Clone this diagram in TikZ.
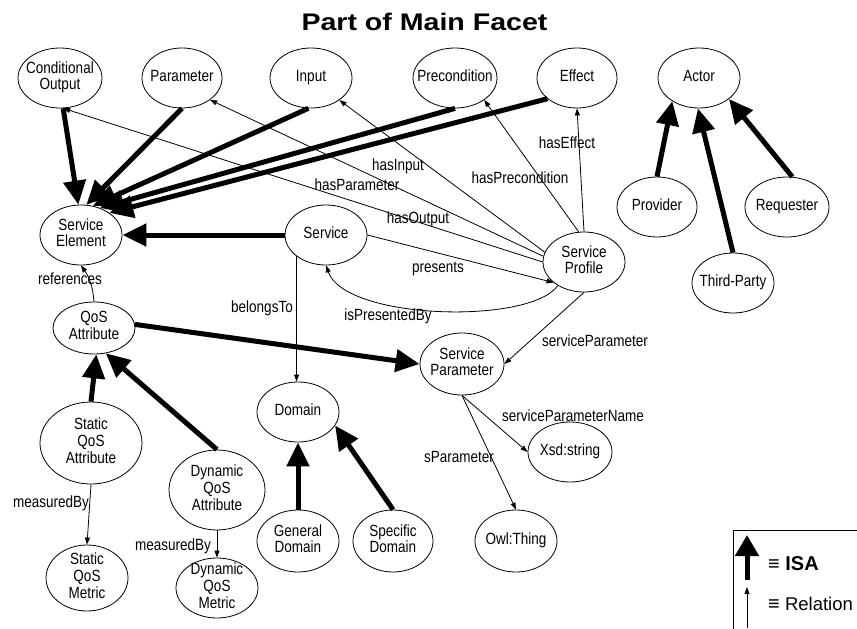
\documentclass[tikz,border=0pt]{standalone}
\usepackage{fontspec}
\setmainfont{Liberation Sans}
\usepackage{graphicx}
\usetikzlibrary{arrows.meta,shapes.geometric,calc}

% text of concepts and relation names: slightly tall sans
\newcommand{\ntext}[1]{\scalebox{1}[1.2]{\begin{tabular}{@{}c@{}}#1\end{tabular}}}
\newcommand{\tallword}[1]{\scalebox{1}[1.2]{#1}}
% concept ellipse with fixed size and centred text
\newcommand{\conceptnode}[5]{%
  \node[concept, minimum width=#3, minimum height=#4,
        label={[txt]center:{\ntext{#5}}}] (#1) at #2 {};}

\begin{document}
\begin{tikzpicture}[x=1pt,y=-1pt,
  concept/.style={draw, ellipse, line width=0.8pt, inner sep=0pt},
  txt/.style={inner sep=0pt, font=\fontsize{13.5}{13.8}\selectfont},
  elbl/.style={inner sep=0pt, anchor=base, font=\fontsize{13.5}{13.8}\selectfont},
  isa/.style={line width=5pt, -{Triangle[length=24pt,width=22pt]}},
  rel/.style={line width=0.8pt, -{Triangle[length=7pt,width=5pt]}}
]
\useasboundingbox (0,0) rectangle (857,629);
\fill[white] (0,0) rectangle (857,629);

% title
\node[inner sep=0pt, anchor=base, font=\fontsize{24}{24}\selectfont\bfseries]
  (title) at (424.5,30) {\scalebox{1.19}[1]{Part of Main Facet}};

% concepts
\conceptnode{co}{(60,78)}{84pt}{60pt}{Conditional\\Output}
\conceptnode{param}{(182,78)}{80pt}{60pt}{Parameter}
\conceptnode{input}{(311,78)}{82pt}{60pt}{Input}
\conceptnode{precond}{(455,78)}{84pt}{60pt}{Precondition}
\conceptnode{effect}{(577,78)}{80pt}{60pt}{Effect}
\conceptnode{actor}{(699,78)}{82pt}{60pt}{Actor}
\conceptnode{provider}{(657,207)}{80pt}{60pt}{Provider}
\conceptnode{requester}{(787,207)}{84pt}{60pt}{Requester}
\conceptnode{third}{(733,283)}{82pt}{60pt}{Third-Party}
\conceptnode{se}{(81,235)}{82pt}{60pt}{Service\\Element}
\conceptnode{service}{(326,235)}{82pt}{60pt}{Service}
\conceptnode{sprof}{(584,262)}{82pt}{60pt}{Service\\Profile}
\conceptnode{qos}{(94,328)}{82pt}{52pt}{QoS\\Attribute}
\conceptnode{sparam}{(462,364)}{84pt}{62pt}{Service\\Parameter}
\conceptnode{sqa}{(91,443)}{102pt}{82pt}{Static\\QoS\\Attribute}
\conceptnode{dqa}{(217,490)}{96pt}{80pt}{Dynamic\\QoS\\Attribute}
\conceptnode{sqm}{(87,578)}{82pt}{66pt}{Static\\QoS\\Metric}
\conceptnode{dqm}{(217,588)}{82pt}{60pt}{Dynamic\\QoS\\Metric}
\conceptnode{domain}{(298,412)}{82pt}{60pt}{Domain}
\conceptnode{gdom}{(298,541)}{82pt}{62pt}{General\\Domain}
\conceptnode{specdom}{(393,541)}{80pt}{62pt}{Specific\\Domain}
\conceptnode{xsd}{(570,452)}{84pt}{60pt}{Xsd:string}
\conceptnode{owl}{(516,541)}{82pt}{62pt}{Owl:Thing}

% ISA links
\draw[isa] (co.-84) -- (se.95);
\draw[isa] (param.south) -- (se.80);
\draw[isa] (input.265) -- (se.68);
\draw[isa] (precond.south) -- (se.55);
\draw[isa] (effect.215) -- (se.38);
\draw[isa] (service.west) -- (se.east);
\draw[isa] (qos.5) -- (sparam.west);
\draw[isa] (sqa.north) -- (qos.-85);
\draw[isa] (dqa.north) -- (qos.-65);
\draw[isa] (gdom.north) -- (domain.south);
\draw[isa] (specdom.north) -- (domain.-20);
\draw[isa] (provider.north) -- (actor.221);
\draw[isa] (third.north) -- (actor.268);
\draw[isa] (requester.80) -- (actor.-35);

% relations
\draw[rel] (sprof.west) -- (co.-84);
\draw[rel] (sprof.172) -- (param.-38);
\draw[rel] (sprof.166) -- (input.-38);
\draw[rel] (sprof.100) -- (precond.-37);
\draw[rel] (sprof.north) -- (effect.south);
\draw[rel] (service.east) -- (sprof.214);
\draw[rel] (sprof.222) .. controls (530,325) and (345,320) .. (service.south);
\draw[rel] (service.216) -- (service.216 |- domain.north);
\draw[rel] (sprof.south) -- (sparam.east);
\draw[rel] (sparam.south) -- (xsd.west);
\draw[rel] (sparam.south) -- (owl.north);
\draw[rel] (qos.north) to[bend right=15] (se.south);
\draw[rel] (sqa.south) -- (sqm.north);
\draw[rel] (dqa.south) -- (dqm.north);

% relation names
\node[elbl] (lOutput) at (418,223) {\tallword{hasOutput}};
\node[elbl] (lParameter) at (357,190) {\tallword{hasParameter}};
\node[elbl] (lInput) at (398,170) {\tallword{hasInput}};
\node[elbl] (lPrecond) at (520,183) {\tallword{hasPrecondition}};
\node[elbl] (lEffect) at (567,148) {\tallword{hasEffect}};
\node[elbl] (lPresents) at (438,272) {\tallword{presents}};
\node[elbl] (lPresented) at (388,320) {\tallword{isPresentedBy}};
\node[elbl] (lBelongs) at (262,312) {\tallword{belongsTo}};
\node[elbl] (lRefs) at (70,284) {\tallword{references}};
\node[elbl] (lMeasS) at (51,507) {\tallword{measuredBy}};
\node[elbl] (lMeasD) at (173,550) {\tallword{measuredBy}};
\node[elbl] (lSParam) at (595,346) {\tallword{serviceParameter}};
\node[elbl] (lSPName) at (573,421) {\tallword{serviceParameterName}};
\node[elbl] (lSP) at (459,462) {\tallword{sParameter}};

% key
\coordinate (keyTR) at (860,530);
\coordinate (keyTL) at (733,530);
\coordinate (keyBL) at (733,632);
\draw[line width=0.8pt] (keyTR) -- (keyTL) -- (keyBL);
\coordinate (isaFrom) at (747,580);
\coordinate (isaTo) at (747,535);
\draw[line width=5pt, -{Triangle[length=21pt,width=23pt]}] (isaFrom) -- (isaTo);
\coordinate (relFrom) at (747,628);
\coordinate (relTo) at (747,587);
\draw[rel] (relFrom) -- (relTo);
\node[inner sep=0pt, anchor=base west, font=\fontsize{20}{20}\selectfont\bfseries]
  (keyIsa) at (768,570) {≡ ISA};
\node[inner sep=0pt, anchor=base west, font=\fontsize{18.5}{20}\selectfont]
  (keyRel) at (768,610) {{\bfseries\fontsize{20}{20}\selectfont ≡} Relation};
\end{tikzpicture}
\end{document}
